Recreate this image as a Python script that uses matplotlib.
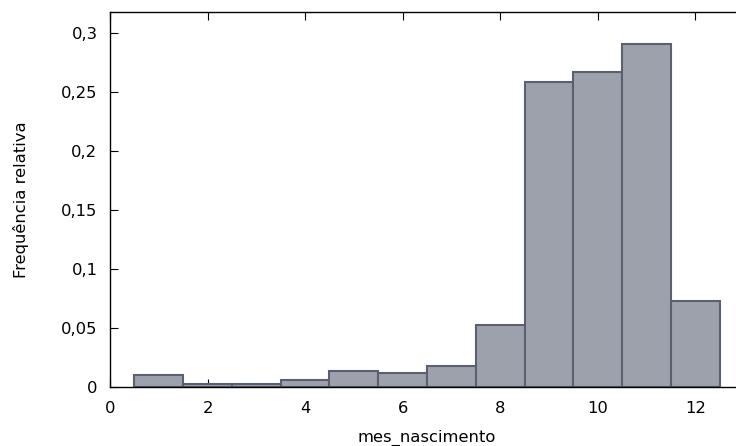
import matplotlib
matplotlib.use("Agg")
import matplotlib.pyplot as plt
from matplotlib.ticker import FuncFormatter

months = [1, 2, 3, 4, 5, 6, 7, 8, 9, 10, 11, 12]
rel_freq = [0.0102, 0.0022, 0.0025, 0.0059, 0.0138, 0.0119, 0.0178,
            0.0525, 0.2587, 0.2667, 0.2903, 0.0725]
x_ticks = [0, 2, 4, 6, 8, 10, 12]
y_ticks = [0, 0.05, 0.1, 0.15, 0.2, 0.25, 0.3]

fig = plt.figure(figsize=(7.36, 4.46), dpi=100)
ax = fig.add_axes([110 / 736, 59 / 446, 634 / 736, 375 / 446])

ax.bar(months, rel_freq, width=1.0, color="#9da1ac", edgecolor="#5a6070",
       linewidth=1.5, zorder=2)

ax.set_xlim(0, 13)
ax.set_ylim(0, 0.3178)
ax.set_xticks(x_ticks)
ax.set_yticks(y_ticks)

fmt = FuncFormatter(lambda v, p: ("%g" % round(v, 3)).replace(".", ","))
ax.yaxis.set_major_formatter(fmt)

ax.tick_params(axis="both", direction="in", length=6, labelsize=11.8,
               top=True, right=True, colors="black")
ax.tick_params(axis="x", pad=10)
ax.tick_params(axis="y", pad=9)

for s in ax.spines.values():
    s.set_linewidth(1.0)
ax.spines["right"].set_visible(False)

ax.set_xlabel("mes_nascimento", fontsize=11.8, labelpad=10)
ax.set_ylabel("Frequência relativa", fontsize=11.8, labelpad=23)

fig.savefig("out.png", dpi=100)
